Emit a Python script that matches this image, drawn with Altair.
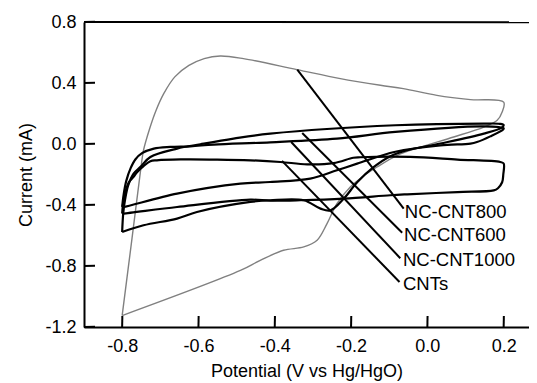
import altair as alt
import pandas as pd

# ---- data (potential in V, current in mA) ----
nc800_v = [-0.800, -0.774, -0.750, -0.744, -0.728, -0.712, -0.691, -0.662, -0.625, -0.585,
           -0.543, -0.482, -0.342, -0.228, -0.123, -0.063, 0.025, 0.113, 0.200,
           0.196, 0.183, 0.148, 0.069, -0.018, -0.079, -0.132, -0.170, -0.202, -0.237,
           -0.263, -0.289, -0.324, -0.377, -0.438, -0.490, -0.800]
nc800_i = [-1.125, -0.616, -0.140, -0.041, 0.100, 0.215, 0.330, 0.440, 0.515, 0.560,
           0.577, 0.560, 0.488, 0.429, 0.385, 0.363, 0.319, 0.291, 0.275,
           0.210, 0.155, 0.111, 0.046, -0.020, -0.074, -0.151, -0.215, -0.282, -0.391,
           -0.522, -0.631, -0.675, -0.697, -0.763, -0.829, -1.125]

nc600_v = [-0.800, -0.797, -0.792, -0.784, -0.770, -0.752, -0.726, -0.656, -0.595, -0.508,
           -0.412, -0.084, 0.148, 0.190, 0.200,
           0.195, 0.148, 0.034, -0.053, -0.097, -0.141, -0.184, -0.219, -0.254, -0.280,
           -0.324, -0.412, -0.464, -0.604, -0.656, -0.744, -0.800]
nc600_i = [-0.577, -0.450, -0.360, -0.270, -0.194, -0.150, -0.085, -0.030, -0.002, 0.035,
           0.068, 0.123, 0.134, 0.132, 0.124,
           0.108, 0.068, 0.003, -0.041, -0.080, -0.152, -0.251, -0.358, -0.435, -0.424,
           -0.369, -0.369, -0.380, -0.446, -0.489, -0.533, -0.577]

nc1000_v = [-0.800, -0.796, -0.789, -0.778, -0.765, -0.748, -0.717, -0.674, -0.621, -0.560,
            -0.412, -0.237, -0.084, 0.148, 0.200,
            0.198, 0.165, 0.130, 0.113, 0.034, -0.084, -0.184, -0.237, -0.307, -0.412,
            -0.490, -0.656, -0.796, -0.800]
nc1000_i = [-0.413, -0.330, -0.240, -0.160, -0.100, -0.060, -0.030, -0.019, -0.015, -0.004,
            0.011, 0.035, 0.079, 0.116, 0.103,
            0.094, 0.050, 0.013, 0.003, -0.009, -0.051, -0.129, -0.172, -0.227, -0.249,
            -0.260, -0.325, -0.413, -0.413]

cnt_v = [-0.800, -0.797, -0.791, -0.782, -0.770, -0.761, -0.744, -0.726, -0.709, -0.647,
         -0.551, -0.464, -0.385, -0.315, -0.246, -0.194, -0.176, -0.045, 0.079, 0.191, 0.200,
         0.199, 0.196, 0.185, 0.174, 0.079, -0.053, -0.097, -0.219, -0.333, -0.412,
         -0.464, -0.656, -0.796, -0.800]
cnt_i = [-0.456, -0.380, -0.310, -0.250, -0.215, -0.185, -0.145, -0.113, -0.107, -0.101,
         -0.102, -0.107, -0.118, -0.133, -0.125, -0.090, -0.087, -0.085, -0.102, -0.118, -0.128,
         -0.200, -0.251, -0.290, -0.304, -0.315, -0.330, -0.336, -0.358, -0.369, -0.372,
         -0.365, -0.413, -0.456, -0.456]

label_names = ["NC-CNT800", "NC-CNT600", "NC-CNT1000", "CNTs"]
pointer_v0 = [-0.341, -0.328, -0.357, -0.381]
pointer_i0 = [0.488, 0.072, 0.013, -0.111]
pointer_v1 = [-0.062, -0.066, -0.071, -0.073]
pointer_i1 = [-0.424, -0.582, -0.749, -0.905]
label_v = [-0.059, -0.061, -0.064, -0.064]
label_i = [-0.446, -0.599, -0.758, -0.920]

x_ticks = [-0.8, -0.6, -0.4, -0.2, 0.0, 0.2]
y_ticks = [-1.2, -0.8, -0.4, 0.0, 0.4, 0.8]
x_min, x_max = -0.9, 0.2664
y_min, y_max = -1.2, 0.8
x_tick_len = 0.0288   # inward tick length, in data units of x
y_tick_len = 0.072    # inward tick length, in data units of y
eps_x, eps_y = 0.0005, 0.0012   # sub-pixel offsets so no segment is exactly axis-aligned

FONT = "Liberation Sans"


def curve(name, vs, cs):
    return pd.DataFrame({"v": vs, "i": cs, "order": list(range(len(vs))), "series": name})


gray_df = curve("NC-CNT800", nc800_v, nc800_i)
black_df = pd.concat([
    curve("NC-CNT600", nc600_v, nc600_i),
    curve("NC-CNT1000", nc1000_v, nc1000_i),
    curve("CNTs", cnt_v, cnt_i),
])
label_df = pd.DataFrame({"name": label_names, "lv": label_v, "li": label_i})

# straight segments: label pointers, inward ticks and the top border of the frame
seg_v0 = pointer_v0 + x_ticks + [x_min] * len(y_ticks) + [x_min]
seg_v1 = (pointer_v1 + [t + eps_x for t in x_ticks]
          + [x_min + x_tick_len] * len(y_ticks) + [x_max])
seg_i0 = pointer_i0 + [y_min] * len(x_ticks) + y_ticks + [y_max]
seg_i1 = (pointer_i1 + [y_min + y_tick_len] * len(x_ticks)
          + [t + eps_y for t in y_ticks] + [y_max - eps_y])
seg_df = pd.DataFrame({"v0": seg_v0, "i0": seg_i0, "v1": seg_v1, "i1": seg_i1})

minus_fix = "replace(format(datum.value, '.1f'), '\u2212', '-')"

xscale = alt.Scale(domain=[x_min, x_max], nice=False, zero=False)
yscale = alt.Scale(domain=[y_min, y_max], nice=False, zero=False)

xaxis = alt.Axis(values=x_ticks, labelExpr=minus_fix, ticks=False, grid=False,
                 domainColor="black", domainWidth=2, labelFont=FONT, labelFontSize=18,
                 labelColor="black", labelPadding=10, title="Potential (V vs Hg/HgO)",
                 titleFont=FONT, titleFontSize=18, titleFontWeight="normal",
                 titleColor="black", titlePadding=7)
yaxis = alt.Axis(values=y_ticks, labelExpr=minus_fix, ticks=False, grid=False,
                 domainColor="black", domainWidth=2, labelFont=FONT, labelFontSize=18,
                 labelColor="black", labelPadding=8, title="Current (mA)",
                 titleFont=FONT, titleFontSize=18, titleFontWeight="normal",
                 titleColor="black", titlePadding=9)

gray = alt.Chart(gray_df).mark_line(color="#808080", strokeWidth=1.4,
                                    interpolate="catmull-rom").encode(
    x=alt.X("v:Q", scale=xscale, axis=xaxis),
    y=alt.Y("i:Q", scale=yscale, axis=yaxis),
    order="order:Q",
)
black = alt.Chart(black_df).mark_line(color="black", strokeWidth=2.2,
                                      interpolate="catmull-rom").encode(
    x=alt.X("v:Q", scale=xscale),
    y=alt.Y("i:Q", scale=yscale),
    detail="series:N",
    order="order:Q",
)
segments = alt.Chart(seg_df).mark_rule(color="black", strokeWidth=2).encode(
    x="v0:Q", y="i0:Q", x2="v1:Q", y2="i1:Q",
)
labels = alt.Chart(label_df).mark_text(align="left", baseline="middle", font=FONT,
                                       fontSize=18.5, color="black").encode(
    x="lv:Q", y="li:Q", text="name:N",
)

chart = alt.layer(gray, black, segments, labels).properties(
    width=445, height=305,
    autosize=alt.AutoSizeParams(type="none"),
    padding={"left": 76, "top": 14, "right": 0, "bottom": 62},
).configure_view(stroke=None).configure(background="white")

chart.save("out.html", embed_options={"renderer": "svg", "actions": False})
